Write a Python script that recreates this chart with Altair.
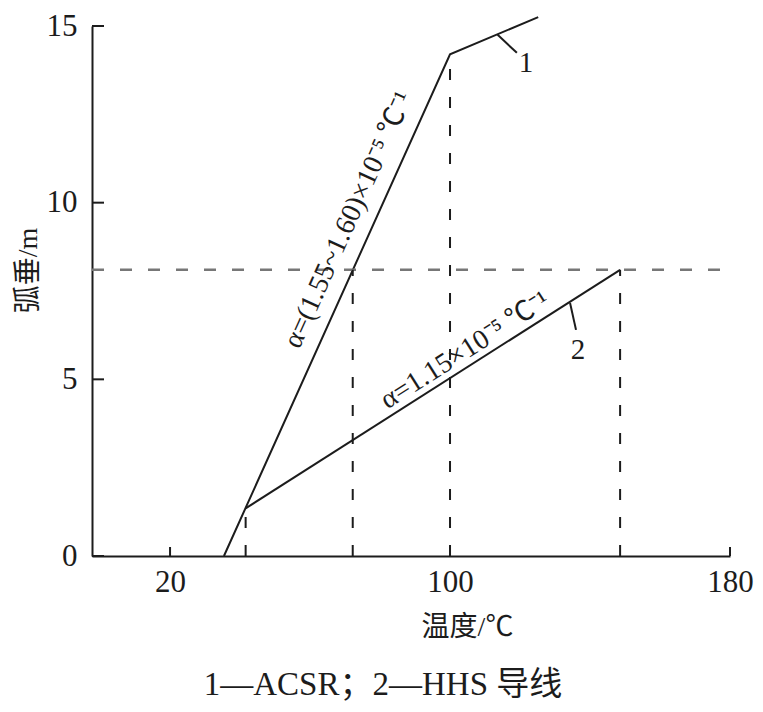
import math
import altair as alt
import pandas as pd

# ---------------- data ----------------
line1_temp = [35.4, 100.0, 125.2]          # ACSR
line1_sag = [0.0, 14.2, 15.25]
line2_temp = [41.6, 148.6]                 # HHS
line2_sag = [1.35, 8.1]
sag_limit = 8.1                            # horizontal dashed line
guide_temp = [41.6, 72.2, 100.0, 148.6]    # vertical dashed lines
guide_sag = [1.35, 8.1, 14.2, 8.1]
x_tick_values = [20, 100, 180]
y_tick_values = [0, 5, 10, 15]
curve_ids = ["1", "2"]
label_temp = [121.7, 136.6]
label_sag = [13.95, 5.83]
leader_temp_a = [113.6, 134.3]
leader_sag_a = [14.75, 7.16]
leader_temp_b = [119.1, 136.0]
leader_sag_b = [14.24, 6.40]
alpha_texts = ["α=(1.55~1.60)×10⁻⁵ ℃⁻¹", "α=1.15×10⁻⁵ ℃⁻¹"]
alpha_frac = [0.65, 0.608]
alpha_dy = [-24, -15]
caption = "1—ACSR；2—HHS 导线"

# ---------------- layout / style ----------------
W, H = 638, 530
X_DOMAIN = [-2.3, 180]
Y_DOMAIN = [0, 15]
INK = "#1c1c1c"
SERIF = "Liberation Serif, Noto Sans CJK SC"

xs = alt.Scale(domain=X_DOMAIN, nice=False, zero=False)
ys = alt.Scale(domain=Y_DOMAIN, nice=False, zero=False)

x_axis = alt.Axis(
    values=x_tick_values, ticks=False, tickSize=0, grid=False,
    domainColor=INK, domainWidth=2,
    labelFont=SERIF, labelFontSize=31, labelColor=INK, labelPadding=11,
    labelFlush=False,
    title="温度/℃", titleFont=SERIF, titleFontSize=28, titleFontWeight="normal",
    titleColor=INK, titleX=375, titleY=71, titleAlign="center", titleBaseline="middle",
)
y_axis = alt.Axis(
    values=y_tick_values, ticks=False, tickSize=0, grid=False,
    domainColor=INK, domainWidth=2,
    labelFont=SERIF, labelFontSize=31, labelColor=INK, labelPadding=15,
    title="弧垂/m", titleFont=SERIF, titleFontSize=28, titleFontWeight="normal",
    titleColor=INK, titleX=-64, titleY=244, titleAlign="center", titleBaseline="middle",
    titleAngle=270,
)


def X(f):
    return alt.X(f, type="quantitative", scale=xs, axis=x_axis)


def Y(f):
    return alt.Y(f, type="quantitative", scale=ys, axis=y_axis)


df1 = pd.DataFrame({"t": line1_temp, "s": line1_sag})
df2 = pd.DataFrame({"t": line2_temp, "s": line2_sag})

line1 = alt.Chart(df1).mark_line(color=INK, strokeWidth=2).encode(
    x=X("t"), y=Y("s"), order="t:Q")
line2 = alt.Chart(df2).mark_line(color=INK, strokeWidth=2).encode(
    x=X("t"), y=Y("s"), order="t:Q")

hline = alt.Chart(pd.DataFrame({"s": [sag_limit]})).mark_rule(
    color="#777777", strokeWidth=2.5, strokeDash=[12, 16]).encode(
    y=Y("s"), x=alt.value(0), x2=alt.value(W))

guides = alt.Chart(pd.DataFrame({"t": guide_temp, "s": guide_sag,
                                 "z": [0] * len(guide_temp)})).mark_rule(
    color=INK, strokeWidth=2, strokeDash=[11, 17]).encode(
    x=X("t"), y=Y("z"), y2="s:Q")

xticks = alt.Chart(pd.DataFrame({"t": x_tick_values})).mark_rule(
    color=INK, strokeWidth=2).encode(x=X("t"), y=alt.value(H), y2=alt.value(H - 9))
yticks = alt.Chart(pd.DataFrame({"s": y_tick_values})).mark_rule(
    color=INK, strokeWidth=2).encode(y=Y("s"), x=alt.value(0), x2=alt.value(12))

leaders = alt.Chart(pd.DataFrame({
    "t": leader_temp_a, "s": leader_sag_a, "t2": leader_temp_b, "s2": leader_sag_b,
})).mark_rule(color=INK, strokeWidth=2).encode(
    x=X("t"), y=Y("s"), x2="t2:Q", y2="s2:Q")

labels = alt.Chart(pd.DataFrame({"t": label_temp, "s": label_sag, "k": curve_ids})).mark_text(
    font=SERIF, fontSize=29, color=INK, align="center", baseline="middle").encode(
    x=X("t"), y=Y("s"), text="k:N")

# rotated coefficient annotations, placed along each line segment
sx = W / (X_DOMAIN[1] - X_DOMAIN[0])
sy = H / (Y_DOMAIN[1] - Y_DOMAIN[0])
segments = [
    (line1_temp[0], line1_sag[0], line1_temp[1], line1_sag[1]),
    (line2_temp[0], line2_sag[0], line2_temp[1], line2_sag[1]),
]
ann_layers = []
for (x0, y0, x1, y1), txt, f, dy in zip(segments, alpha_texts, alpha_frac, alpha_dy):
    ang = math.degrees(math.atan2((y1 - y0) * sy, (x1 - x0) * sx))
    d = pd.DataFrame({"t": [x0 + f * (x1 - x0)], "s": [y0 + f * (y1 - y0)], "txt": [txt]})
    ann_layers.append(
        alt.Chart(d).mark_text(font=SERIF, fontSize=28, color=INK, align="center",
                               baseline="middle", angle=(360 - ang) % 360, dy=dy).encode(
            x=X("t"), y=Y("s"), text="txt:N"))

chart = alt.layer(
    line1, line2, hline, guides, xticks, yticks, leaders, labels, *ann_layers
).properties(
    width=W, height=H,
    padding={"left": 84, "top": 18, "right": 25, "bottom": 152},
    autosize=alt.AutoSizeParams(type="none"),
    background="white",
    title=alt.TitleParams(text=caption, orient="bottom", anchor="middle", font=SERIF,
                          fontSize=33, fontWeight="normal", color=INK, offset=28, dx=-28),
).configure_view(strokeWidth=0)

chart.save("out.html", embed_options={"renderer": "svg", "actions": False})
